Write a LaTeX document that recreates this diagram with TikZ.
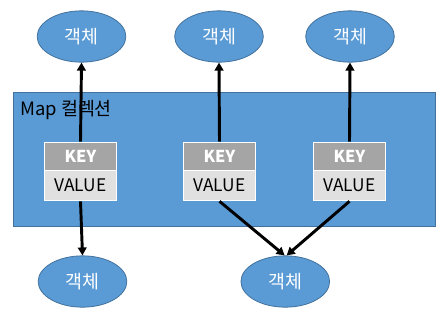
\documentclass[tikz,border=0pt]{standalone}
\usepackage{fontspec}
\setmainfont{Noto Sans CJK KR}
\usetikzlibrary{shapes.geometric,arrows.meta}
\definecolor{mapblue}{HTML}{5B9BD5}
\definecolor{mapedge}{HTML}{41719C}
\definecolor{keygray}{HTML}{A5A5A5}
\definecolor{valgray}{HTML}{E0E0E0}
\begin{document}
\begin{tikzpicture}[x=0.75pt,y=-0.75pt,
  obj/.style={ellipse,draw=mapedge,fill=mapblue,line width=0.6pt,minimum width=66.5pt,minimum height=38.5pt,inner sep=0pt,text=white,font=\fontsize{13.8}{15}\selectfont},
  keybox/.style={rectangle,draw=white,fill=keygray,line width=0.9pt,minimum width=54pt,minimum height=21.3pt,inner sep=0pt,text=white,font=\fontsize{12.3}{14}\selectfont\bfseries},
  valbox/.style={rectangle,draw=white,fill=valgray,line width=0.9pt,minimum width=54pt,minimum height=22.5pt,inner sep=0pt,text=black,font=\fontsize{13}{14}\selectfont},
  link/.style={line width=2.2pt,-{Triangle[length=6pt,width=6.5pt]}}]
\useasboundingbox (0,0) rectangle (446,319);
\node[rectangle,draw=mapedge,fill=mapblue,line width=0.6pt,minimum width=317pt,minimum height=100.5pt,inner sep=0pt] (map) at (224.5,159.3) {};
\node[anchor=west,inner sep=0pt,font=\fontsize{13.8}{15}\selectfont] (lbl) at (20,110) {Map 컬렉션};
\node[obj] (t1) at (81.5,36.5) {객체};
\node[obj] (t2) at (219,36.5) {객체};
\node[obj] (t3) at (350,36.5) {객체};
\node[obj] (b1) at (82.5,281.5) {객체};
\node[obj] (b2) at (285.3,281.5) {객체};
\node[keybox] (k1) at (80.5,156.5) {KEY};
\node[valbox] (v1) at (80.5,185.7) {VALUE};
\node[keybox] (k2) at (219.5,156.5) {KEY};
\node[valbox] (v2) at (219.5,185.7) {VALUE};
\node[keybox] (k3) at (349.5,156.5) {KEY};
\node[valbox] (v3) at (349.5,185.7) {VALUE};
\draw[link] (k1.north) -- (t1.south);
\draw[link] (k2.north) -- (t2.south);
\draw[link] (k3.north) -- (t3.south);
\draw[link] (v1.south) -- (b1.north);
\draw[link] (v2.south) -- ([xshift=-0.5pt]b2.north);
\draw[link] (v3.south) -- ([xshift=1pt]b2.north);
\end{tikzpicture}
\end{document}
